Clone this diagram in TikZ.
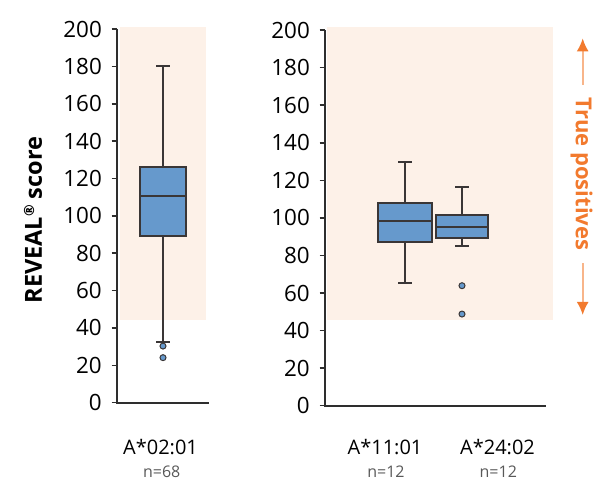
\documentclass[tikz,border=0pt]{standalone}
\usepackage{fontspec}
\setmainfont{Open Sans}
\usetikzlibrary{arrows.meta}
\tikzset{>=latex}
\definecolor{peach}{HTML}{FDF1E8}
\definecolor{bx}{HTML}{6699CC}
\definecolor{edge}{HTML}{3A3636}
\definecolor{ax}{HTML}{2E2E2E}
\definecolor{orng}{HTML}{F27A2E}
\definecolor{orngl}{HTML}{F8B58A}
\tikzstyle{whisk}=[edge,line width=1.9pt]
\tikzstyle{qbox}=[draw=edge,fill=bx,line width=2pt]
\tikzstyle{outl}=[fill=bx,draw=edge,line width=1pt]
\tikzstyle{tick lbl}=[anchor=east,inner sep=0,font=\fontsize{22.4}{22}\selectfont]
\tikzstyle{cat lbl}=[inner sep=0,font=\fontsize{20}{20}\selectfont]
\tikzstyle{n lbl}=[inner sep=0,text=black!65,font=\fontsize{16}{16}\selectfont]
\tikzstyle{tp arrow}=[orngl,line width=2pt,-{Latex[length=13pt,width=12pt,color=orng]}]
% boxplot: x, half width, low whisker, q1, median, q3, high whisker
\newcommand{\bplot}[7]{%
  \draw[whisk] (#1,#3) -- (#1,#4) (#1,#6) -- (#1,#7);
  \draw[whisk] (#1-7,#3) -- (#1+7,#3) (#1-7,#7) -- (#1+7,#7);
  \draw[qbox] (#1-#2,#4) rectangle (#1+#2,#6);
  \draw[edge,line width=2pt] (#1-#2,#5) -- (#1+#2,#5);
}

\begin{document}
\begin{tikzpicture}[x=1pt,y=1pt]
  \useasboundingbox (0,0) rectangle (606,492);

  % left panel
  \begin{scope}[shift={(117,89.3)},y=1.8685pt]
    \fill[peach] (3,44.3) rectangle (88.7,201.2);
    \foreach \v in {0,20,...,200} {
      \draw[ax,line width=1.6pt] (-5.5,\v) -- (0,\v);
      \node[tick lbl] at (-15,\v) {\v};
    }
    \draw[ax,line width=2.3pt] (0,200) -- (0,0) -- (91.7,0);
    \bplot{46}{22.8}{32.6}{89.2}{110.6}{126.3}{180.4}
    \filldraw[outl] (46,30.3) circle (3pt) (46,24.1) circle (3pt);
  \end{scope}

  % right panel
  \begin{scope}[shift={(325,86.3)},y=1.878pt]
    \fill[peach] (1.7,45.6) rectangle (228.3,201.6);
    \foreach \v in {0,20,...,200} {
      \draw[ax,line width=1.6pt] (-5.5,\v) -- (0,\v);
      \node[tick lbl] at (-15,\v) {\v};
    }
    \draw[ax,line width=2.3pt] (0,200) -- (0,0) -- (220.7,0);
    \bplot{80}{26.7}{65.5}{87.1}{98.3}{107.8}{129.9}
    \bplot{137}{25.8}{85.1}{89.1}{95}{101.5}{116.6}
    \filldraw[outl] (137,63.9) circle (3pt) (137,48.8) circle (3pt);
  \end{scope}

  % labels
  \node[rotate=90,inner sep=0,font=\fontsize{23.5}{23}\selectfont\bfseries] (ylbl) at (33,272)
    {REVEAL\raisebox{0.6ex}{\fontsize{14}{14}\selectfont\textregistered} score};
  \node[cat lbl] (a0201) at (160.5,45.3) {A*02:01};
  \node[n lbl] (n68) at (161.7,20.3) {n=68};
  \node[cat lbl] (a1101) at (385,45.3) {A*11:01};
  \node[n lbl] (n12a) at (386,20.3) {n=12};
  \node[cat lbl] (a2402) at (497.5,45.3) {A*24:02};
  \node[n lbl] (n12b) at (498.3,20.3) {n=12};

  % true positives
  \node[rotate=-90,inner sep=0,text=orng,font=\fontsize{22}{22}\selectfont\bfseries] (tp) at (581.7,318) {True positives};
  \coordinate (up start) at (582.7,407);
  \coordinate (up tip) at (582.7,453.7);
  \coordinate (dn start) at (582.7,228.7);
  \coordinate (dn tip) at (582.7,177);
  \draw[tp arrow] (up start) -- (up tip);
  \draw[tp arrow] (dn start) -- (dn tip);
\end{tikzpicture}
\end{document}
